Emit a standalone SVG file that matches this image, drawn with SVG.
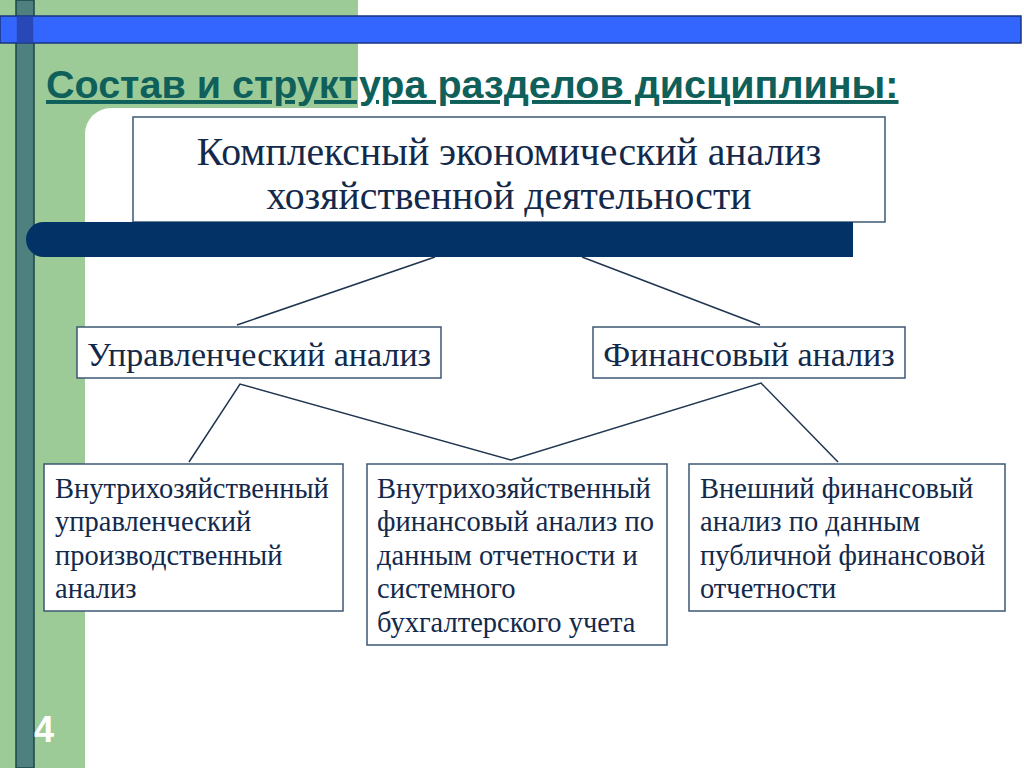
<svg xmlns="http://www.w3.org/2000/svg" width="1024" height="768" viewBox="0 0 1024 768">
<defs>
<style>
.box{fill:#fff;stroke:#3d5873;stroke-width:1.5}
.con{stroke:#1f3550;stroke-width:1.5;fill:none}
.t{font-family:"Liberation Serif","Times New Roman",serif;fill:#13294b}
.big{font-size:39.7px}
.mid{font-size:34px}
.small{font-size:28.5px}
</style>
</defs>
<g id="background">
<rect x="0" y="0" width="1024" height="768" fill="#ffffff"/>
<rect x="0" y="0" width="358" height="140" fill="#9ccb98"/>
<rect x="0" y="0" width="85" height="768" fill="#9ccb98"/>
<rect x="85" y="108" width="960" height="700" rx="26" fill="#ffffff"/>
<rect x="16" y="0" width="18" height="768" fill="#4d807e" stroke="#1c4646" stroke-width="1.5"/>
<rect x="0" y="16" width="1021" height="27" fill="#3366ff" stroke="#1a3580" stroke-width="1.5"/>
<rect x="16.75" y="16.75" width="16.5" height="25.5" fill="#2848b8"/>
<text x="44" y="742" text-anchor="middle" font-family="Liberation Sans,Arial,sans-serif" font-weight="bold" font-size="36" fill="#ffffff">4</text>
</g>
<g id="title">
<text x="46" y="98" font-family="Liberation Sans,Arial,sans-serif" font-weight="bold" font-size="39.5" fill="#0f5f5b" text-decoration="underline">Состав и структура разделов дисциплины:</text>
</g>
<g id="node-root">
<rect class="box" x="133" y="117" width="752" height="105"/>
<text class="t big" x="509" y="165" text-anchor="middle">Комплексный экономический анализ</text>
<text class="t big" x="509" y="209" text-anchor="middle">хозяйственной деятельности</text>
</g>
<g id="navy-bar">
<path d="M43.5,222 H853 V257 H43.5 A17.5,17.5 0 0 1 43.5,222 Z" fill="#033366"/>
</g>
<g id="connectors">
<line class="con" x1="435" y1="257" x2="237" y2="325"/>
<line class="con" x1="582" y1="257" x2="760" y2="325"/>
<polyline class="con" points="189,462 240,384 511,460 761,383 838,462"/>
</g>
<g id="node-mgmt">
<rect class="box" x="77" y="327" width="364" height="51"/>
<text class="t mid" x="259" y="366" text-anchor="middle">Управленческий анализ</text>
</g>
<g id="node-fin">
<rect class="box" x="593" y="327" width="312" height="51"/>
<text class="t mid" x="749" y="366" text-anchor="middle">Финансовый анализ</text>
</g>
<g id="node-internal-mgmt">
<rect class="box" x="44" y="464" width="299" height="147"/>
<text class="t small" x="55" y="498">Внутрихозяйственный</text>
<text class="t small" x="55" y="531">управленческий</text>
<text class="t small" x="55" y="565">производственный</text>
<text class="t small" x="55" y="598">анализ</text>
</g>
<g id="node-internal-fin">
<rect class="box" x="367" y="464" width="300" height="181"/>
<text class="t small" x="377" y="498">Внутрихозяйственный</text>
<text class="t small" x="377" y="531">финансовый анализ по</text>
<text class="t small" x="377" y="565">данным отчетности и</text>
<text class="t small" x="377" y="598">системного</text>
<text class="t small" x="377" y="632">бухгалтерского учета</text>
</g>
<g id="node-external-fin">
<rect class="box" x="689" y="464" width="316" height="147"/>
<text class="t small" x="700" y="498">Внешний финансовый</text>
<text class="t small" x="700" y="531">анализ по данным</text>
<text class="t small" x="700" y="565">публичной финансовой</text>
<text class="t small" x="700" y="598">отчетности</text>
</g>
</svg>
